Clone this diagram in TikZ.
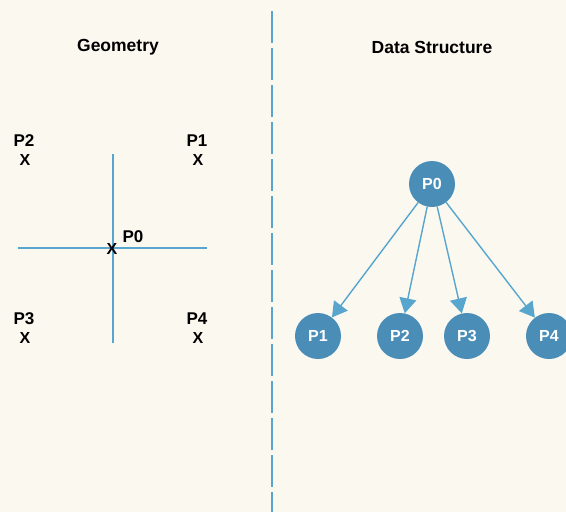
\documentclass[tikz,border=0pt]{standalone}
\usepackage{fontspec}
\setmainfont{Liberation Sans}
\usetikzlibrary{arrows.meta}
\definecolor{paper}{HTML}{FBF8F0}
\definecolor{hpblue}{HTML}{4A8EB8}
\definecolor{lineblue}{HTML}{58A6CE}
\begin{document}
\begin{tikzpicture}[x=1pt, y=-1pt,
  title/.style={font=\bfseries\fontsize{17.5}{20}\selectfont},
  ptlabel/.style={font=\bfseries\fontsize{17}{19}\selectfont, inner sep=0pt},
  xmark/.style={font=\bfseries\fontsize{16}{18}\selectfont, inner sep=0pt},
  pnode/.style={circle, fill=hpblue, text=white, minimum size=46pt, inner sep=0pt,
    font=\bfseries\fontsize{16}{18}\selectfont},
  axis/.style={lineblue, line width=1.5pt},
  arrow/.style={lineblue, line width=1.4pt, -{Triangle[length=15pt, width=17pt]}}
]
\fill[paper] (0,0) rectangle (566,512);
\useasboundingbox (0,0) rectangle (566,512);

% divider
\foreach \y in {11,48,...,511}
  \draw[lineblue, line width=2.6pt] (272,\y) -- (272,\y+32);

% titles
\node[title] (geo) at (118,47) {Geometry};
\node[title] (ds) at (432,47) {Data Structure};

% geometry side
\coordinate (vt) at (113,154);
\coordinate (vb) at (113,343);
\coordinate (hl) at (18,248);
\coordinate (hr) at (207,248);
\draw[axis] (vt) -- (vb);
\draw[axis] (hl) -- (hr);

\node[xmark] (g0x) at (112,249) {X};
\node[ptlabel] (g0) at (133,237) {P0};
\node[ptlabel] (g2) at (24,141) {P2};
\node[xmark] (g2x) at (25,160) {X};
\node[ptlabel] (g1) at (197,141) {P1};
\node[xmark] (g1x) at (198,160) {X};
\node[ptlabel] (g3) at (24,319) {P3};
\node[xmark] (g3x) at (25,338) {X};
\node[ptlabel] (g4) at (197,319) {P4};
\node[xmark] (g4x) at (198,338) {X};

% data structure side
\node[pnode] (p0) at (432,184) {P0};
\node[pnode] (p1) at (318,336) {P1};
\node[pnode] (p2) at (400,336) {P2};
\node[pnode] (p3) at (467,336) {P3};
\node[pnode] (p4) at (549,336) {P4};

\draw[arrow] (p0) -- (p1);
\draw[arrow] (p0) -- (p2);
\draw[arrow] (p0) -- (p3);
\draw[arrow] (p0) -- (p4);
\end{tikzpicture}
\end{document}
